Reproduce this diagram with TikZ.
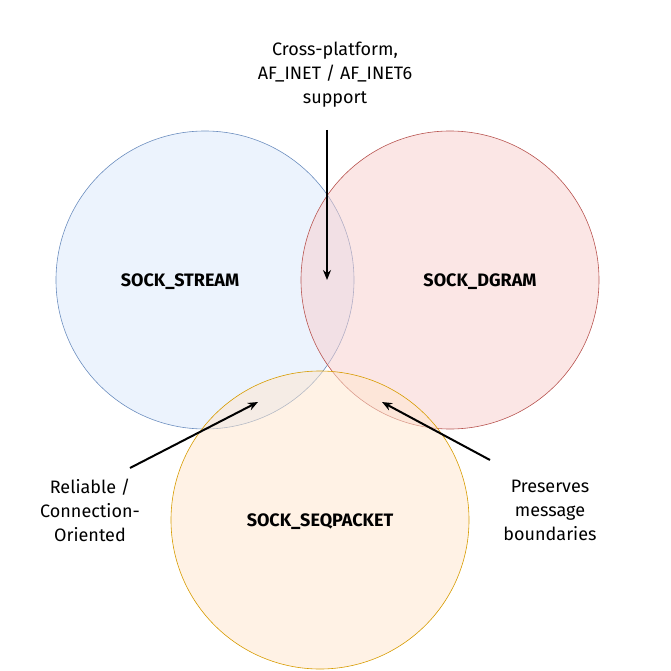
\documentclass[tikz,border=0pt]{standalone}
\usepackage{fontspec}
\setmainfont{Fira Sans}
\usetikzlibrary{arrows.meta}
\definecolor{bl}{HTML}{6C8EBF}\definecolor{blf}{HTML}{DAE8FC}
\definecolor{rd}{HTML}{B85450}\definecolor{rdf}{HTML}{F8CECC}
\definecolor{og}{HTML}{D79B00}\definecolor{ogf}{HTML}{FFE6CC}
\begin{document}
\begin{tikzpicture}[x=1pt,y=-1pt,
  venn/.style={circle,minimum size=298pt,inner sep=0pt,fill opacity=0.5,line width=0.6pt},
  lab/.style={font=\bfseries\fontsize{18}{22}\selectfont},
  note/.style={align=center,font=\fontsize{18}{24}\selectfont},
  arr/.style={-{Stealth[length=10pt,width=8pt]},line width=2pt}]
\useasboundingbox (0,0) rectangle (670,671);
\node[venn,draw=bl,fill=blf] (cs) at (205,280) {};
\node[venn,draw=rd,fill=rdf] (cd) at (450,280) {};
\node[venn,draw=og,fill=ogf] (cq) at (320,520) {};
\node[lab] (ls) at (180,282) {SOCK\_STREAM};
\node[lab] (ld) at (480,282) {SOCK\_DGRAM};
\node[lab] (lq) at (320,522) {SOCK\_SEQPACKET};
\node[note] (n1) at (335,75) {Cross-platform,\\AF\_INET / AF\_INET6\\support};
\node[note] (n2) at (90,510) {Reliable /\\Connection-\\Oriented};
\node[note] (n3) at (550,510) {Preserves\\message\\boundaries};
\coordinate (t1) at (327,280);
\coordinate (t2) at (258,402);
\coordinate (t3) at (382,402);
\draw[arr] (327,130) -- (t1);
\draw[arr] (130,468) -- (t2);
\draw[arr] (490,460) -- (t3);
\end{tikzpicture}
\end{document}
